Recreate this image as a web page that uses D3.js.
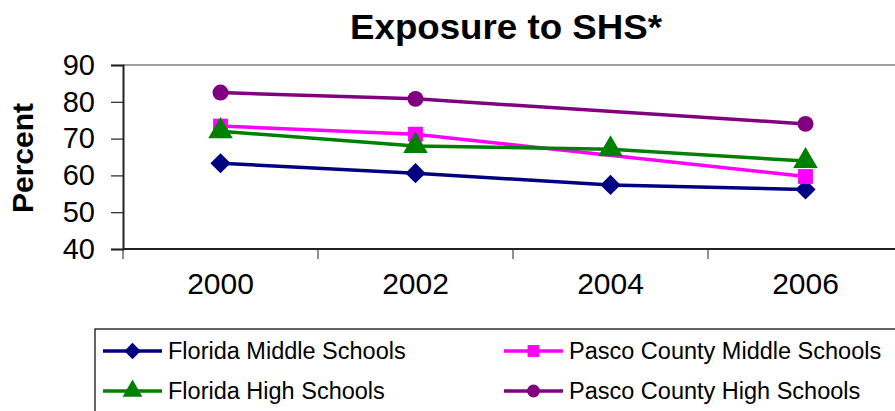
<!DOCTYPE html>
<html>
<head>
<meta charset="utf-8">
<script src="https://cdn.jsdelivr.net/npm/d3@7"></script>
<style>
  body { margin: 0; background: #fff; }
  svg { display: block; font-family: "Liberation Sans", Arial, sans-serif; }
</style>
</head>
<body>
<div id="container"></div>
<script>
//DATA
const years = ["2000", "2002", "2004", "2006"];
const yTicks = [40, 50, 60, 70, 80, 90];
const seriesNames = ["Florida Middle Schools", "Pasco County Middle Schools",
                     "Florida High Schools", "Pasco County High Schools"];
// null = no survey that year
const floridaMiddle = [63.3, 60.6, 57.4, 56.2];
const pascoMiddle = [73.4, 71.2, null, 59.7];
const floridaHigh = [72.0, 68.0, 67.1, 63.9];
const pascoHigh = [82.5, 80.8, null, 74.0];

const colors = ["#000080", "#ff00ff", "#008000", "#800080"];
const shapes = [d3.symbolDiamond2, d3.symbolSquare, d3.symbolTriangle, d3.symbolCircle];
const allSeries = [floridaMiddle, pascoMiddle, floridaHigh, pascoHigh];

//SVG
const width = 895;
const height = 411;
const plot = { left: 123, top: 65, right: 903, bottom: 249 };

const svg = d3.select("#container").append("svg")
    .attr("width", width)
    .attr("height", height);

//SCALES
const xScale = d3.scaleBand().domain(years).range([plot.left, plot.right]);
const yScale = d3.scaleLinear().domain([40, 90]).range([plot.bottom, plot.top]);

//TITLE
svg.append("text")
    .attr("x", 506)
    .attr("y", 39)
    .attr("text-anchor", "middle")
    .attr("textLength", 312)
    .attr("lengthAdjust", "spacingAndGlyphs")
    .style("font-size", "35px")
    .style("font-weight", "bold")
    .text("Exposure to SHS*");

//PLOT FRAME (top edge only visible in grey)
svg.append("line")
    .attr("x1", plot.left).attr("x2", width)
    .attr("y1", plot.top).attr("y2", plot.top)
    .attr("stroke", "#a0a0a0")
    .attr("stroke-width", 2);

//AXES
const yAxis = svg.append("g")
    .attr("transform", "translate(" + plot.left + ",0)")
    .call(d3.axisLeft(yScale).tickValues(yTicks).tickSize(12).tickPadding(16));

const xAxis = svg.append("g")
    .attr("transform", "translate(0," + plot.bottom + ")")
    .call(d3.axisBottom(xScale).tickSize(0).tickPadding(24));

// band boundaries as tick marks
xAxis.selectAll("line.bound")
    .data(d3.range(years.length))
    .enter().append("line")
      .attr("class", "bound")
      .attr("x1", i => xScale(years[i]))
      .attr("x2", i => xScale(years[i]))
      .attr("y1", 0).attr("y2", 10)
      .attr("stroke", "#222");

[yAxis, xAxis].forEach(function(a) {
  a.select(".domain").attr("stroke", "#222").attr("stroke-width", 2);
  a.selectAll(".tick line").attr("stroke", "#222").attr("stroke-width", 1.2);
  a.selectAll(".tick text")
    .attr("fill", "#000")
    .style("font-family", "'Liberation Sans', Arial, sans-serif");
});
yAxis.selectAll(".tick text").style("font-size", "29px");
xAxis.selectAll(".tick text").style("font-size", "30px");
xAxis.select(".domain").attr("d", "M" + plot.left + ",0H" + width);

svg.append("text")
    .attr("transform", "translate(33,158) rotate(-90)")
    .attr("text-anchor", "middle")
    .style("font-size", "30px")
    .style("font-weight", "bold")
    .text("Percent");

//LINES + MARKERS
const line = d3.line()
    .x(d => xScale(d.year) + xScale.bandwidth() / 2)
    .y(d => yScale(d.value));

const markerSizes = [260, 220, 260, 200];

allSeries.forEach(function(values, s) {
  const pts = years.map((y, i) => ({ year: y, value: values[i] }))
                   .filter(d => d.value !== null);
  const g = svg.append("g");
  g.append("path")
    .datum(pts)
    .attr("fill", "none")
    .attr("stroke", colors[s])
    .attr("stroke-width", 3.5)
    .attr("d", line);
  g.selectAll("path.pt")
    .data(pts)
    .enter().append("path")
      .attr("class", "pt")
      .attr("transform", d => "translate(" + (xScale(d.year) + xScale.bandwidth() / 2) + "," + yScale(d.value) + ")")
      .attr("d", d3.symbol().type(shapes[s]).size(markerSizes[s]))
      .attr("fill", colors[s]);
});

//LEGEND
svg.append("rect")
    .attr("x", 95).attr("y", 329)
    .attr("width", 830).attr("height", 120)
    .attr("fill", "none")
    .attr("stroke", "#000")
    .attr("stroke-width", 1.2);

const legendPos = [[103, 351], [504, 351], [103, 391], [504, 391]];
const legendSizes = [170, 140, 170, 130];

seriesNames.forEach(function(name, s) {
  const p = legendPos[s];
  const g = svg.append("g").attr("transform", "translate(" + p[0] + "," + p[1] + ")");
  g.append("line")
    .attr("x1", 0).attr("x2", 59)
    .attr("stroke", colors[s])
    .attr("stroke-width", 3.5);
  g.append("path")
    .attr("transform", "translate(29.5,0)")
    .attr("d", d3.symbol().type(shapes[s]).size(legendSizes[s]))
    .attr("fill", colors[s]);
  g.append("text")
    .attr("x", 65)
    .attr("y", 8)
    .style("font-size", "23.5px")
    .text(name);
});
</script>
</body>
</html>
